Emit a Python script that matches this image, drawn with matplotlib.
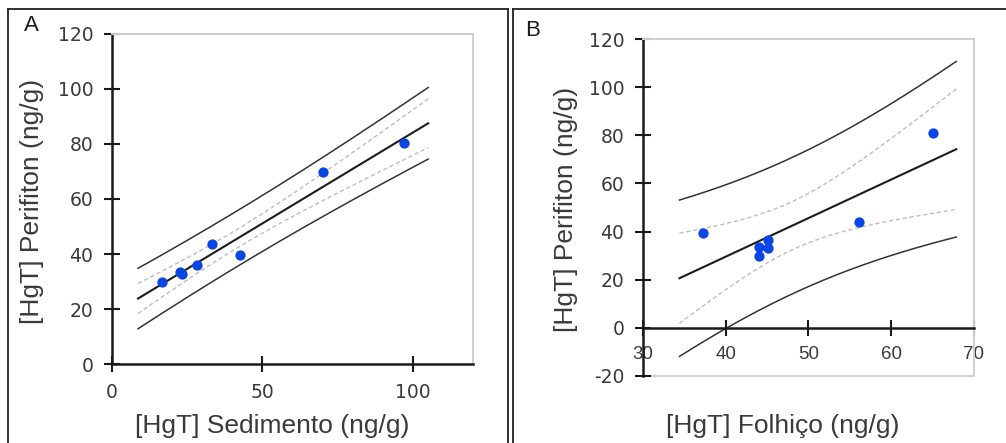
import matplotlib
matplotlib.use("Agg")
import matplotlib.pyplot as plt
import numpy as np
from matplotlib.lines import Line2D

plt.rcParams["font.family"] = ["Liberation Sans", "DejaVu Sans"]
plt.rcParams["axes.unicode_minus"] = False

# Panel A: sediment vs periphyton
sed_x = [16.7, 22.7, 23.3, 28.3, 33.3, 42.7, 70.2, 97.1]
sed_y = [30.0, 33.4, 32.7, 36.0, 43.7, 39.7, 69.8, 80.2]

# Panel B: litter vs periphyton
fol_x = [37.2, 44.0, 44.0, 45.1, 45.1, 56.1, 65.1]
fol_y = [39.5, 29.8, 33.4, 36.5, 33.0, 44.1, 81.2]

A_XTICKS = [0, 50, 100]
A_YTICKS = [0, 20, 40, 60, 80, 100, 120]
B_XTICKS = [30, 40, 50, 60, 70]
B_YTICKS = [-20, 0, 20, 40, 60, 80, 100, 120]

# two-sided 95% t critical values by degrees of freedom
T975 = {5: 2.5706, 6: 2.4469}

POINT_COLOR = "#0a45e6"
TEXT_COLOR = "#3a3a3a"
AXIS_COLOR = "#1a1a1a"
FRAME_GRAY = "#cfcfcf"


def fit_bands(x, y, n_pts=200):
    x = np.asarray(x, float)
    y = np.asarray(y, float)
    n = len(x)
    slope, icpt = np.polyfit(x, y, 1)
    resid = y - (icpt + slope * x)
    s = np.sqrt(np.sum(resid ** 2) / (n - 2))
    sxx = np.sum((x - x.mean()) ** 2)
    span = x.max() - x.min()
    xs = np.linspace(x.min() - 0.1 * span, x.max() + 0.1 * span, n_pts)
    yhat = icpt + slope * xs
    t = T975[n - 2]
    ci = t * s * np.sqrt(1 / n + (xs - x.mean()) ** 2 / sxx)
    pi = t * s * np.sqrt(1 + 1 / n + (xs - x.mean()) ** 2 / sxx)
    return xs, yhat, ci, pi


def draw_fit(ax, x, y):
    xs, yhat, ci, pi = fit_bands(x, y)
    for sign in (1, -1):
        ax.plot(xs, yhat + sign * pi, color="#333333", linewidth=1.1, zorder=2)
        ax.plot(xs, yhat + sign * ci, color="#bdbdbd", linewidth=1.0,
                linestyle=(0, (3, 2)), zorder=2)
    ax.plot(xs, yhat, color="#1c1c1c", linewidth=1.5, zorder=3)
    ax.plot(x, y, linestyle="none", marker="o", markersize=7.4,
            color=POINT_COLOR, markeredgewidth=0, zorder=4)


def style_axes(ax):
    for side in ("top", "right"):
        ax.spines[side].set_color(FRAME_GRAY)
        ax.spines[side].set_linewidth(1.4)
    for side in ("left", "bottom"):
        ax.spines[side].set_color(AXIS_COLOR)
        ax.spines[side].set_linewidth(1.8)
    ax.tick_params(direction="inout", length=11, width=1.5, color=AXIS_COLOR,
                   labelsize=13.5, labelcolor=TEXT_COLOR, pad=8)
    for lbl in ax.get_xticklabels() + ax.get_yticklabels():
        lbl.set_fontfamily("DejaVu Sans")
    ax.set_facecolor("white")


fig = plt.figure(figsize=(10.06, 4.43), dpi=100)

# panel frames (figure pixel coordinates converted to fractions)
W, H = 1006.0, 443.0
frame_kw = dict(color="#222222", linewidth=1.3, transform=fig.transFigure)
fig.add_artist(Line2D([7.5 / W, 7.5 / W], [0, 1 - 9 / H], **frame_kw))
fig.add_artist(Line2D([7.5 / W, 508 / W], [1 - 9 / H, 1 - 9 / H], **frame_kw))
fig.add_artist(Line2D([508 / W, 508 / W], [0, 1 - 9 / H], **frame_kw))
fig.add_artist(Line2D([513 / W, 513 / W], [0, 1 - 9 / H], **frame_kw))
fig.add_artist(Line2D([513 / W, 1], [1 - 9 / H, 1 - 9 / H], **frame_kw))

# ---- panel A ----
axA = fig.add_axes([0.1113, 0.1783, 0.3588, 0.745])
draw_fit(axA, sed_x, sed_y)
axA.set_xlim(0, 120)
axA.set_ylim(0, 120)
axA.set_xticks(A_XTICKS)
axA.set_yticks(A_YTICKS)
style_axes(axA)
axA.set_xlabel("[HgT] Sedimento (ng/g)", fontsize=19, color=TEXT_COLOR)
axA.set_ylabel("[HgT] Perifiton (ng/g)", fontsize=19, color=TEXT_COLOR)
axA.xaxis.set_label_coords(0.443, -0.188)
axA.yaxis.set_label_coords(-0.222, 0.494)
axA.xaxis.label.set_va("center")
axA.yaxis.label.set_va("center")

# ---- panel B ----
axB = fig.add_axes([0.6392, 0.1519, 0.3287, 0.7594])
draw_fit(axB, fol_x, fol_y)
axB.set_xlim(30, 70)
axB.set_ylim(-20, 120)
axB.set_xticks(B_XTICKS)
axB.set_yticks(B_YTICKS)
style_axes(axB)
axB.spines["bottom"].set_position(("data", 0))
axB.axhline(-20, color=FRAME_GRAY, linewidth=1.4, clip_on=False, zorder=1)
axB.set_xlabel("[HgT] Folhiço (ng/g)", fontsize=19, color=TEXT_COLOR)
axB.set_ylabel("[HgT] Perifiton (ng/g)", fontsize=19, color=TEXT_COLOR)
axB.xaxis.set_label_coords(0.423, -0.150)
axB.yaxis.set_label_coords(-0.232, 0.4955)
axB.xaxis.label.set_va("center")
axB.yaxis.label.set_va("center")

fig.text(31 / W, 1 - 25.5 / H, "A", fontsize=16, color=AXIS_COLOR,
         ha="center", va="center")
fig.text(532.5 / W, 1 - 30 / H, "B", fontsize=16, color=AXIS_COLOR,
         ha="center", va="center")

fig.savefig("out.png", dpi=100)
